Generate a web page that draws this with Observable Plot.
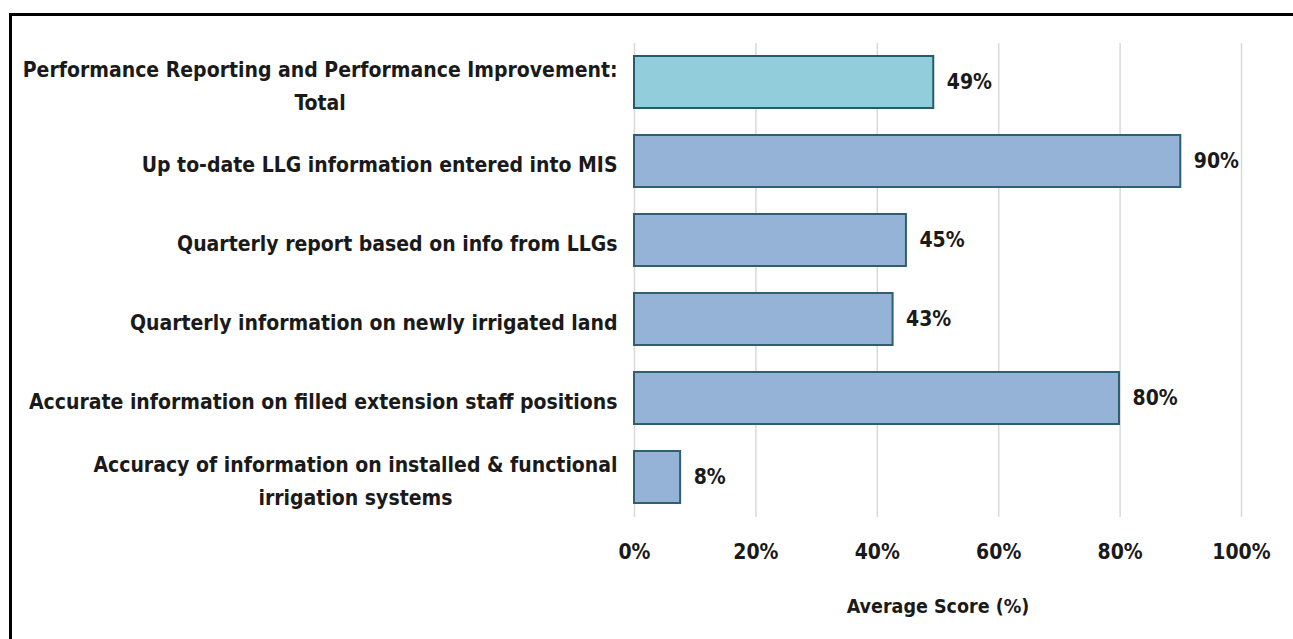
<!DOCTYPE html>
<html>
<head>
<meta charset="utf-8">
<script src="https://cdn.jsdelivr.net/npm/d3@7"></script>
<script src="https://cdn.jsdelivr.net/npm/@observablehq/plot@0.6"></script>
<style>
  html, body { margin: 0; padding: 0; background: #fff; }
  body { width: 1293px; height: 639px; overflow: hidden; position: relative; }
  #frame {
    position: absolute; left: 9px; top: 13px; right: 0; bottom: 0;
    border-left: 3px solid #000; border-top: 3px solid #000;
  }
  #chart svg { display: block; }
</style>
</head>
<body>
<div id="frame"><div id="chart"></div></div>
<script>
const categories = [
  "Performance Reporting and Performance Improvement:\nTotal",
  "Up to-date LLG information entered into MIS",
  "Quarterly report based on info from LLGs",
  "Quarterly information on newly irrigated land",
  "Accurate information on filled extension staff positions",
  "Accuracy of information on installed & functional\nirrigation systems"
];
const values = [49.3, 90, 44.8, 42.6, 79.9, 7.6];
const kinds = ["total", "item", "item", "item", "item", "item"];
const xTicks = [0, 20, 40, 60, 80, 100];
const xLabel = "Average Score (%)";

const data = categories.map((c, i) => ({category: c, value: values[i], kind: kinds[i]}));

const FONT = "'Liberation Sans Narrow', 'Arial Narrow', 'DejaVu Sans Condensed', sans-serif";
const INK = "#1a1a1a";

const chart = Plot.plot({
  width: 1281,
  height: 623,
  marginLeft: 622,
  marginRight: 52,
  marginTop: 27,
  marginBottom: 122,
  style: {fontFamily: FONT, fontWeight: "bold", color: INK, background: "#fff"},
  x: {domain: [0, 100]},
  y: {domain: categories, paddingInner: 0.34, paddingOuter: 0.17},
  color: {domain: ["total", "item"], range: ["#92cddc", "#95b3d7"]},
  marks: [
    Plot.gridX(xTicks, {stroke: "#d9d9d9", strokeOpacity: 1, strokeWidth: 1.5}),
    Plot.barX(data, {
      x: "value", y: "category", fill: "kind",
      stroke: d => d.kind === "total" ? "#235c6b" : "#2f5f70",
      strokeWidth: 2
    }),
    Plot.text(data, {
      x: "value", y: "category", text: d => Math.round(d.value) + "%",
      dx: 13, textAnchor: "start", fontSize: 21, fontWeight: "bold", fill: INK
    }),
    Plot.axisY({tickSize: 0, tickPadding: 17, fontSize: 21, lineHeight: 1.57, label: null}),
    Plot.axisX({
      ticks: xTicks, tickFormat: d => d + "%", tickSize: 0, tickPadding: 27,
      fontSize: 21, label: null
    }),
    Plot.text([xLabel], {
      frameAnchor: "bottom", dy: 95, text: d => d, fontSize: 19.5, fontWeight: "bold", fill: INK
    })
  ]
});

document.getElementById("chart").appendChild(chart);

// Center the lines of wrapped category labels within their block (as in the original)
chart.querySelectorAll('g[aria-label="y-axis tick label"] text').forEach(t => {
  const spans = t.querySelectorAll("tspan");
  if (spans.length > 1) {
    let maxW = 0;
    spans.forEach(s => { maxW = Math.max(maxW, s.getComputedTextLength()); });
    t.setAttribute("text-anchor", "middle");
    spans.forEach(s => s.setAttribute("x", -maxW / 2));
  }
});
</script>
</body>
</html>
